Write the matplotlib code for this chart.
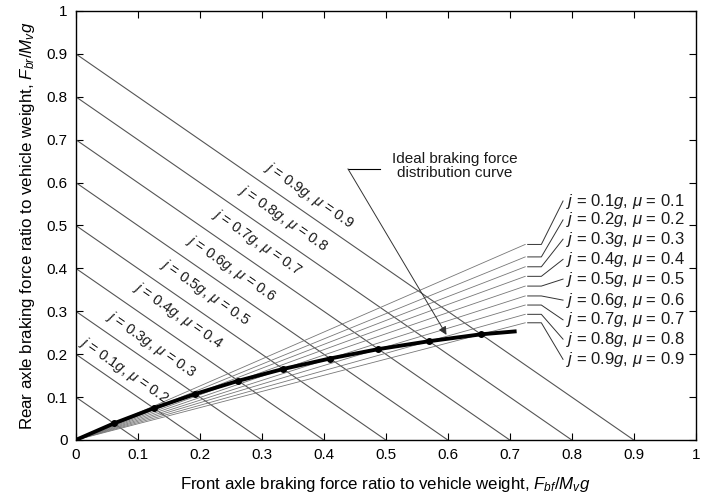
import matplotlib
matplotlib.use("Agg")
from matplotlib import pyplot as plt
import numpy as np

# deceleration levels j (in g) for the constant-deceleration lines
j_levels = [0.1, 0.2, 0.3, 0.4, 0.5, 0.6, 0.7, 0.8, 0.9]

# ideal braking force distribution curve (front, rear)
ideal_front = [0.0, 0.0614, 0.1259, 0.1927, 0.2621, 0.3345, 0.4101, 0.4882, 0.5698, 0.6537, 0.708]
ideal_rear = [0.0, 0.0386, 0.0741, 0.1073, 0.1379, 0.1655, 0.1899, 0.2118, 0.2302, 0.2463, 0.253]

# labels along the diagonal lines (as printed in the original)
diag_labels = ["$j$ = 0.9$g$, $\\mu$ = 0.9", "$j$ = 0.8$g$, $\\mu$ = 0.8",
               "$j$ = 0.7$g$, $\\mu$ = 0.7", "$j$ = 0.6$g$, $\\mu$ = 0.6",
               "$j$ = 0.5$g$, $\\mu$ = 0.5", "$j$ = 0.4$g$, $\\mu$ = 0.4",
               "$j$ = 0.3$g$, $\\mu$ = 0.3", "$j$ = 0.1$g$, $\\mu$ = 0.2"]
diag_label_x = [0.377, 0.334, 0.292, 0.250, 0.208, 0.165, 0.121, 0.077]
diag_label_y = [0.571, 0.517, 0.461, 0.399, 0.345, 0.291, 0.224, 0.163]

# labels on the right for the fan lines
right_labels = ["$j$ = %.1f$g$, $\\mu$ = %.1f" % (j, j) for j in j_levels]
right_label_y = [0.557, 0.513, 0.468, 0.421, 0.375, 0.326, 0.280, 0.235, 0.188]

ticks = [0, 0.1, 0.2, 0.3, 0.4, 0.5, 0.6, 0.7, 0.8, 0.9, 1]
tick_labels = ["0", "0.1", "0.2", "0.3", "0.4", "0.5", "0.6", "0.7", "0.8", "0.9", "1"]


def main():
    plt.rcParams["font.family"] = ["Liberation Sans", "DejaVu Sans"]
    plt.rcParams["mathtext.fontset"] = "custom"
    plt.rcParams["mathtext.rm"] = "Liberation Sans"
    plt.rcParams["mathtext.it"] = "Liberation Sans:italic"

    fig = plt.figure(figsize=(7.02, 4.98), dpi=100)
    ax = fig.add_axes([0.108, 0.1165, 0.883, 0.8615])

    # constant deceleration lines
    for j in j_levels:
        ax.plot([0, j], [j, 0], color="#555555", lw=0.8)

    # fan lines from the origin through each ideal point
    x_end = 0.725
    for k, j in enumerate(j_levels):
        slope = ideal_rear[k + 1] / ideal_front[k + 1]
        y_end = slope * x_end
        ax.plot([0, x_end], [0, y_end], color="#777777", lw=0.6)
        ax.plot([0.729, 0.751, 0.786], [y_end, y_end, right_label_y[k]],
                color="#333333", lw=0.7)
        ax.text(0.790, right_label_y[k], right_labels[k], fontsize=12,
                ha="left", va="center", color="#1a1a1a")

    # ideal curve
    ax.plot(ideal_front, ideal_rear, color="black", lw=2.8)
    ax.plot(ideal_front[1:-1], ideal_rear[1:-1], "o", color="black", ms=4)

    # diagonal labels
    angle = -np.degrees(np.arctan(0.8615 * 4.98 / (0.883 * 7.02)))
    for txt, x, y in zip(diag_labels, diag_label_x, diag_label_y):
        ax.text(x, y, txt, fontsize=10.5, rotation=angle, ha="center",
                va="center", color="#1a1a1a", rotation_mode="anchor")

    # ideal curve annotation
    ax.text(0.611, 0.639, "Ideal braking force\ndistribution curve", fontsize=11,
            ha="center", va="center", color="#1a1a1a", linespacing=1.05)
    ax.plot([0.439, 0.49], [0.632, 0.632], color="black", lw=0.8)
    ax.annotate("", xy=(0.598, 0.245), xytext=(0.439, 0.632),
                arrowprops=dict(arrowstyle="-|>", color="#333333", lw=0.7,
                                mutation_scale=12, shrinkA=0, shrinkB=0))

    ax.set_xlim(0, 1)
    ax.set_ylim(0, 1)
    ax.set_xticks(ticks)
    ax.set_xticklabels(tick_labels)
    ax.set_yticks(ticks)
    ax.set_yticklabels(tick_labels)
    ax.tick_params(direction="in", top=True, right=True, length=5,
                   labelsize=11, pad=6)
    for s in ax.spines.values():
        s.set_linewidth(1.0)
    ax.set_xlabel("Front axle braking force ratio to vehicle weight, $F_{bf}/M_{v}g$",
                  fontsize=12.2, labelpad=9)
    ax.set_ylabel("Rear axle braking force ratio to vehicle weight, $F_{br}/M_{v}g$",
                  fontsize=12.2, labelpad=7)

    fig.savefig("out.png", dpi=100)


if __name__ == "__main__":
    main()
